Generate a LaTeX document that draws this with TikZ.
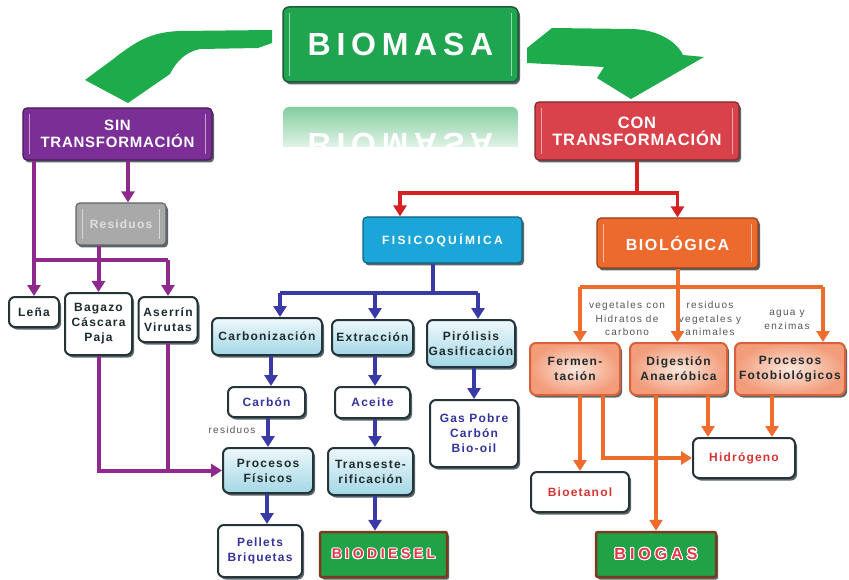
\documentclass[tikz,border=0pt]{standalone}
\usepackage{fontspec}
\setmainfont{Liberation Sans}
\newfontfamily\titlefont[LetterSpace=18]{Liberation Sans}
\newfontfamily\headfont[LetterSpace=5]{Liberation Sans}
\newfontfamily\spreadfont[LetterSpace=20]{Liberation Sans}
\newfontfamily\boxfont[LetterSpace=10]{Liberation Sans}
\newfontfamily\notefont[LetterSpace=13]{Liberation Sans}
\newfontfamily\prodfont[LetterSpace=25]{Liberation Sans}
\usepackage[copies]{contour}
\contourlength{0.9pt}
\usetikzlibrary{arrows.meta,shadows}

\definecolor{massgreen}{HTML}{1FA550}
\definecolor{massedge}{HTML}{1F5A3A}
\definecolor{leafgreen}{HTML}{1DAB4C}
\definecolor{sinpurple}{HTML}{7A2E96}
\definecolor{conred}{HTML}{D9414B}
\definecolor{ficyan}{HTML}{1BA5D8}
\definecolor{bioorange}{HTML}{EC6A2E}
\definecolor{wirepurple}{HTML}{8E2A8E}
\definecolor{wireblue}{HTML}{3A3AA6}
\definecolor{wirered}{HTML}{D42222}
\definecolor{wireorange}{HTML}{EE6C2C}
\definecolor{boxedge}{HTML}{243438}
\definecolor{paletop}{HTML}{EEF8FB}
\definecolor{palebot}{HTML}{A3D7E5}
\definecolor{peachin}{HTML}{FDE7DC}
\definecolor{peachout}{HTML}{F29C7A}
\definecolor{peachedge}{HTML}{D8603A}
\definecolor{prodgreen}{HTML}{22A247}
\definecolor{prodedge}{HTML}{7A3A1E}
\definecolor{prodred}{HTML}{E0364A}
\definecolor{inkdark}{HTML}{1E2A2E}
\definecolor{inknavy}{HTML}{34349A}
\definecolor{inkred}{HTML}{D63434}
\definecolor{inkgray}{HTML}{555555}
\definecolor{ashgray}{HTML}{A9A9A9}

\tikzset{
  shadebox/.style={drop shadow={shadow xshift=2pt,shadow yshift=-2.5pt,fill=boxedge,opacity=.75}},
  card/.style={shadebox, draw=boxedge, line width=2pt, rounded corners=6pt, align=center,
    inner sep=1pt, text=inkdark, font=\boxfont\bfseries\fontsize{12}{15}\selectfont},
  plaincard/.style={card, fill=white},
  palecard/.style={card, top color=paletop, bottom color=palebot},
  peachcard/.style={card, draw=peachedge, inner color=peachin, outer color=peachout},
  prodcard/.style={card, draw=prodedge, fill=prodgreen, line width=2.5pt, rounded corners=2pt,
    font=\prodfont\bfseries\fontsize{14}{16}\selectfont},
  headcard/.style={shadebox, draw=#1!60!black, fill=#1, line width=1.2pt, rounded corners=4pt,
    align=center, text=white, font=\headfont\bfseries\fontsize{15}{17}\selectfont},
  glint/.style={white, opacity=.55, line width=1.3pt},
  note/.style={align=center, text=inkgray, font=\notefont\fontsize{10}{13.5}\selectfont},
  wire/.style={line width=4pt},
  wirehead/.style={wire, -{Triangle[width=13pt,length=11pt]}},
}

\begin{document}
\begin{tikzpicture}[x=1pt,y=-1pt]
\fill[white] (0,0) rectangle (849,580);
\useasboundingbox (0,0) rectangle (849,580);

% green bends out of the title
\fill[leafgreen] (272,30) -- (272,43) -- (258,48) -- (200,49) .. controls (185,52) and (176,62) .. (170,74)
  -- (128,103) -- (85,80) -- (112,60) .. controls (135,42) and (150,32) .. (180,31) -- cycle;
\fill[leafgreen] (527,48) -- (552,28) -- (630,29) .. controls (655,29) and (676,40) .. (683,55)
  -- (704,57) -- (631,99) -- (597,78) -- (604,67) -- (527,63) -- cycle;

% title and its reflection
\node[headcard=massgreen, draw=massedge, line width=1.5pt, rounded corners=6pt,
  minimum width=235, minimum height=75,
  font=\titlefont\bfseries\fontsize{32}{34}\selectfont] (biomasa) at (400.5,44.5) {BIOMASA};
\begin{scope}
  \clip (283,107) rectangle (518,147);
  \shade[top color=massgreen!55!white, bottom color=white, rounded corners=6pt] (283,107) rectangle (518,160);
  \node[text=white, yscale=-1, font=\titlefont\bfseries\fontsize{32}{34}\selectfont] (echo) at (400.5,145) {BIOMASA};
\end{scope}

% headers
\node[headcard=sinpurple, minimum width=189, minimum height=52] (sin) at (117.5,134) {SIN\\TRANSFORMACIÓN};
\node[headcard=conred, minimum width=204, minimum height=58,
  font=\headfont\bfseries\fontsize{16.5}{17}\selectfont] (con) at (637,131) {CON\\TRANSFORMACIÓN};
\node[headcard=ficyan, minimum width=159, minimum height=46,
  font=\spreadfont\bfseries\fontsize{12}{14}\selectfont] (fisico) at (442.5,240) {FISICOQUÍMICA};
\node[headcard=bioorange, minimum width=161, minimum height=50,
  font=\boxfont\bfseries\fontsize{16}{18}\selectfont] (bio) at (677.5,243) {BIOLÓGICA};
\node[headcard=ashgray, text=black!12, minimum width=90, minimum height=42,
  font=\boxfont\bfseries\fontsize{12}{14}\selectfont] (residuos) at (121,224) {Residuos};

\foreach \b in {biomasa,sin,con,bio,residuos}{
  \draw[glint] ([shift={(7pt,-7pt)}]\b.north west) -- ([shift={(7pt,7pt)}]\b.south west);
  \draw[glint] ([shift={(-7pt,-7pt)}]\b.north east) -- ([shift={(-7pt,7pt)}]\b.south east);
}

% sin transformacion
\node[plaincard, minimum width=50, minimum height=30] (lena) at (34,312) {Leña};
\node[plaincard, minimum width=67, minimum height=62] (bagazo) at (98.5,324) {Bagazo\\Cáscara\\Paja};
\node[plaincard, minimum width=59, minimum height=45] (aserrin) at (168,319.5) {Aserrín\\Virutas};

% fisicoquimica
\node[palecard, minimum width=110, minimum height=37] (carboniz) at (267,336.5) {Carbonización};
\node[palecard, minimum width=81, minimum height=35] (extrac) at (372.5,337.5) {Extracción};
\node[palecard, minimum width=88, minimum height=47] (pirol) at (471,343.5) {Pirólisis\\Gasificación};
\node[plaincard, text=inknavy, minimum width=77, minimum height=30] (carbon) at (266.5,402) {Carbón};
\node[plaincard, text=inknavy, minimum width=75, minimum height=31] (aceite) at (372.5,402.5) {Aceite};
\node[plaincard, text=inknavy, minimum width=88, minimum height=67] (gas) at (474,433.5) {Gas Pobre\\Carbón\\Bio-oil};
\node[palecard, minimum width=90, minimum height=45] (procesos) at (268,470.5) {Procesos\\Físicos};
\node[palecard, minimum width=85, minimum height=47] (trans) at (370.5,471.5) {Transeste-\\rificación};
\node[plaincard, text=inknavy, minimum width=84, minimum height=52] (pellets) at (260,551) {Pellets\\Briquetas};
\node[prodcard, minimum width=127, minimum height=45] (biodiesel) at (383.5,554.5) {\contour{white}{\textcolor{prodred}{BIODIESEL}}};

% biologica
\node[peachcard, minimum width=90, minimum height=52] (ferm) at (575,369) {Fermen-\\tación};
\node[peachcard, minimum width=97, minimum height=52] (dig) at (678.5,369) {Digestión\\Anaeróbica};
\node[peachcard, minimum width=110, minimum height=52] (foto) at (790,369) {Procesos\\Fotobiológicos};
\node[plaincard, text=inkred, minimum width=102, minimum height=40] (hidro) at (744,458) {Hidrógeno};
\node[plaincard, text=inkred, minimum width=98, minimum height=40] (bioetanol) at (580,492) {Bioetanol};
\node[prodcard, minimum width=120, minimum height=45,
  font=\prodfont\bfseries\fontsize{16}{18}\selectfont] (biogas) at (656,554.5) {\contour{white}{\textcolor{prodred}{BIOGAS}}};

% notes on the wires
\node[note] (nveg) at (627,318.5) {vegetales con\\Hidratos de\\carbono};
\node[note] (nres) at (710,318.5) {residuos\\vegetales y\\animales};
\node[note] (nagua) at (787,320) {agua y\\enzimas};
\node[note] (nresid) at (232,430) {residuos};

% purple wires
\coordinate (hp) at (0,260);
\draw[wirehead, wirepurple] (sin.south -| lena) -- (lena.north);
\draw[wirehead, wirepurple] ([xshift=10.5pt]sin.south) -- ([xshift=10.5pt]sin.south |- residuos.north);
\draw[wirehead, wirepurple] (residuos.south -| bagazo.north) -- (bagazo.north);
\draw[wire, wirepurple] (hp -| lena) -- (hp -| aserrin);
\draw[wirehead, wirepurple] (hp -| aserrin) -- (aserrin.north);
\draw[wirehead, wirepurple] (bagazo.south) |- (procesos.west);
\draw[wire, wirepurple] (aserrin.south) -- (aserrin.south |- procesos.west);

% red wires
\coordinate (hr) at (0,193);
\draw[wire, wirered, line width=3.5pt] (con.south) -- (con.south |- hr);
\draw[wirehead, wirered, line width=3.5pt] (con.south |- hr) -| ([xshift=-42.5pt]fisico.north);
\draw[wirehead, wirered, line width=3.5pt] (con.south |- hr) -| (bio.north);

% blue wires
\coordinate (b1) at (280,293);
\coordinate (b2) at (375,293);
\coordinate (b3) at (478,293);
\draw[wire, wireblue] ([xshift=-9.5pt]fisico.south) -- ([xshift=-9.5pt]fisico.south |- b1);
\draw[wire, wireblue] (b1) -- (b3);
\draw[wirehead, wireblue] (b1) -- (b1 |- carboniz.north);
\draw[wirehead, wireblue] (b2) -- (b2 |- extrac.north);
\draw[wirehead, wireblue] (b3) -- (b3 |- pirol.north);
\draw[wirehead, wireblue] ([xshift=4pt]carboniz.south) -- ([xshift=4pt]carboniz.south |- carbon.north);
\draw[wirehead, wireblue] (carbon.south -| procesos.north) -- (procesos.north);
\draw[wirehead, wireblue] ([xshift=2.5pt]extrac.south) -- ([xshift=2.5pt]extrac.south |- aceite.north);
\draw[wirehead, wireblue] ([xshift=2.5pt]aceite.south) -- ([xshift=2.5pt]aceite.south |- trans.north);
\draw[wirehead, wireblue] (pirol.south -| gas.north) -- (gas.north);
\draw[wirehead, wireblue] ([xshift=-1pt]procesos.south) -- ([xshift=-1pt]procesos.south |- pellets.north);
\draw[wirehead, wireblue] ([xshift=4.5pt]trans.south) -- ([xshift=4.5pt]trans.south |- biodiesel.north);

% orange wires
\coordinate (o1) at (580,287);
\coordinate (o3) at (823,287);
\draw[wire, wireorange] (bio.south) -- (bio.south |- o1);
\draw[wire, wireorange] (o1) -- (o3);
\draw[wirehead, wireorange] (o1) -- (o1 |- ferm.north);
\draw[wirehead, wireorange] (bio.south |- o1) -- (bio.south |- dig.north);
\draw[wirehead, wireorange] (o3) -- (o3 |- foto.north);
\draw[wirehead, wireorange] (bioetanol.north |- ferm.south) -- (bioetanol.north);
\draw[wirehead, wireorange] ([xshift=28pt]ferm.south) |- (hidro.west);
\draw[wirehead, wireorange] (biogas.north |- dig.south) -- (biogas.north);
\draw[wirehead, wireorange] ([xshift=29.5pt]dig.south) -- ([xshift=29.5pt]dig.south |- hidro.north);
\draw[wirehead, wireorange] ([xshift=-18pt]foto.south) -- ([xshift=-18pt]foto.south |- hidro.north);
\end{tikzpicture}
\end{document}
